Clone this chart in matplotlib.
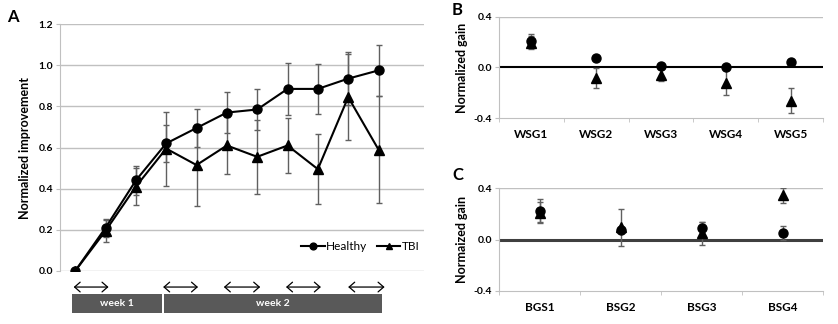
import matplotlib
matplotlib.use("Agg")
import matplotlib.pyplot as plt
import matplotlib.transforms as mtransforms
from matplotlib.patches import Rectangle
import numpy as np

plt.rcParams["font.family"] = ["Lato", "DejaVu Sans"]

# ---- panel A data ----
sessions = np.arange(11)
healthy_a = [0.0, 0.21, 0.44, 0.62, 0.695, 0.77, 0.785, 0.885, 0.885, 0.935, 0.975]
healthy_a_err = [0.0, 0.045, 0.07, 0.09, 0.09, 0.10, 0.10, 0.125, 0.12, 0.13, 0.125]
tbi_a = [0.0, 0.195, 0.41, 0.595, 0.515, 0.61, 0.555, 0.61, 0.495, 0.845, 0.59]
tbi_a_err = [0.0, 0.055, 0.09, 0.18, 0.20, 0.14, 0.18, 0.135, 0.17, 0.21, 0.26]

# ---- panel B data ----
b_labels = ["WSG1", "WSG2", "WSG3", "WSG4", "WSG5"]
healthy_b = [0.21, 0.075, 0.015, 0.0, 0.04]
healthy_b_err = [0.05, 0.01, 0.01, 0.01, 0.01]
tbi_b = [0.195, -0.085, -0.06, -0.12, -0.26]
tbi_b_err = [0.05, 0.08, 0.05, 0.10, 0.10]

# ---- panel C data ----
c_labels = ["BGS1", "BSG2", "BSG3", "BSG4"]
healthy_c = [0.225, 0.075, 0.09, 0.05]
healthy_c_err = [0.09, 0.01, 0.05, 0.055]
tbi_c = [0.21, 0.095, 0.05, 0.345]
tbi_c_err = [0.08, 0.147, 0.09, 0.06]

GRID = "#c0c0c0"
ERR = "#606060"

fig = plt.figure(figsize=(8.38, 3.24), dpi=100)
axA = fig.add_axes([0.0716, 0.1636, 0.4344, 0.762])
axB = fig.add_axes([0.5955, 0.6349, 0.3866, 0.3136])
axC = fig.add_axes([0.5955, 0.1028, 0.3866, 0.316])

# ---- panel A ----
axA.errorbar(sessions, healthy_a, yerr=healthy_a_err, fmt="none", ecolor=ERR,
             elinewidth=1, capsize=2.2, capthick=1, zorder=2)
axA.errorbar(sessions, tbi_a, yerr=tbi_a_err, fmt="none", ecolor=ERR,
             elinewidth=1, capsize=2.2, capthick=1, zorder=2)
axA.plot(sessions, healthy_a, "-o", color="black", lw=1.5, ms=6.5, label="Healthy", zorder=3)
axA.plot(sessions, tbi_a, "-^", color="black", lw=1.5, ms=6.5, label="TBI", zorder=3)
axA.set_xlim(-0.5, 11.5)
axA.set_ylim(0, 1.2)
axA.set_yticks(np.arange(0, 1.21, 0.2))
axA.set_yticklabels([f"{v:.1f}" for v in np.arange(0, 1.21, 0.2)], fontweight="bold", fontsize=7.5)
axA.set_xticks([])
axA.grid(axis="y", color=GRID, lw=1)
axA.set_axisbelow(True)
for s in ["top", "right", "bottom"]:
    axA.spines[s].set_visible(False)
axA.spines["left"].set_color(GRID)
axA.tick_params(axis="y", color=GRID, length=3, pad=2)
axA.set_ylabel("Normalized improvement", fontsize=9, fontweight="bold", labelpad=5)
axA.legend(loc="center right", bbox_to_anchor=(1.0, 0.098), ncol=2, frameon=False,
           fontsize=8.5, handlelength=2.0, markerscale=0.75, columnspacing=0.8,
           handletextpad=0.1, borderaxespad=0)

# arrows and week boxes below panel A
trans = mtransforms.blended_transform_factory(axA.transData, axA.transAxes)
for x0, x1 in [(-0.05, 1.1), (2.9, 4.05), (4.9, 6.1), (6.95, 8.1), (9.0, 10.2)]:
    axA.annotate("", xy=(x0, -0.065), xytext=(x1, -0.065), xycoords=trans, textcoords=trans,
                 arrowprops=dict(arrowstyle="<->,head_length=0.4,head_width=0.35",
                                 color="black", lw=0.9, shrinkA=0, shrinkB=0),
                 annotation_clip=False)
for x0, x1, txt in [(-0.1, 2.86, "week 1"), (2.93, 10.13, "week 2")]:
    axA.add_patch(Rectangle((x0, -0.17), x1 - x0, 0.077, transform=trans,
                            facecolor="#595959", edgecolor="none", clip_on=False))
    axA.text((x0 + x1) / 2, -0.1315, txt, transform=trans, ha="center", va="center",
             color="white", fontsize=7.5, fontweight="bold")


def gain_panel(ax, labels, h, h_err, t, t_err, zero_color, zero_lw, ylabel):
    x = np.arange(len(labels))
    ax.errorbar(x, h, yerr=h_err, fmt="none", ecolor=ERR, elinewidth=1, capsize=2.2,
                capthick=1, zorder=2)
    ax.errorbar(x, t, yerr=t_err, fmt="none", ecolor=ERR, elinewidth=1, capsize=2.2,
                capthick=1, zorder=2)
    ax.plot(x, t, "^", color="black", ms=6.5, zorder=3)
    ax.plot(x, h, "o", color="black", ms=6.5, zorder=3)
    ax.axhline(0, color=zero_color, lw=zero_lw, zorder=1)
    ax.axhline(0.4, color=GRID, lw=1, zorder=0)
    ax.set_xlim(-0.5, len(labels) - 0.5)
    ax.set_ylim(-0.4, 0.4)
    ax.set_yticks([-0.4, 0.0, 0.4])
    ax.set_yticklabels(["-0.4", "0.0", "0.4"], fontweight="bold", fontsize=7.5)
    ax.set_xticks(x)
    ax.set_xticklabels(labels, fontweight="bold", fontsize=8.5)
    ax.set_xticks(np.arange(len(labels) + 1) - 0.5, minor=True)
    ax.tick_params(axis="x", which="major", length=0, pad=8)
    ax.tick_params(axis="x", which="minor", length=3, color=GRID)
    ax.tick_params(axis="y", length=3, color=GRID, pad=2)
    for s in ["top", "right"]:
        ax.spines[s].set_visible(False)
    ax.spines["left"].set_color(GRID)
    ax.spines["bottom"].set_color(GRID)
    ax.set_ylabel(ylabel, fontsize=9, fontweight="bold", labelpad=4)


gain_panel(axB, b_labels, healthy_b, healthy_b_err, tbi_b, tbi_b_err, "black", 1.5, "Normalized gain")
gain_panel(axC, c_labels, healthy_c, healthy_c_err, tbi_c, tbi_c_err, "#3f3f3f", 2.2, "Normaized gain")

fig.text(13 / 838, 1 - 17 / 324, "A", fontsize=12, fontweight="bold", ha="center", va="center")
fig.text(457 / 838, 1 - 10 / 324, "B", fontsize=12, fontweight="bold", ha="center", va="center")
fig.text(458 / 838, 1 - 175 / 324, "C", fontsize=12, fontweight="bold", ha="center", va="center")

fig.savefig("out.png", dpi=100)
plt.close()
